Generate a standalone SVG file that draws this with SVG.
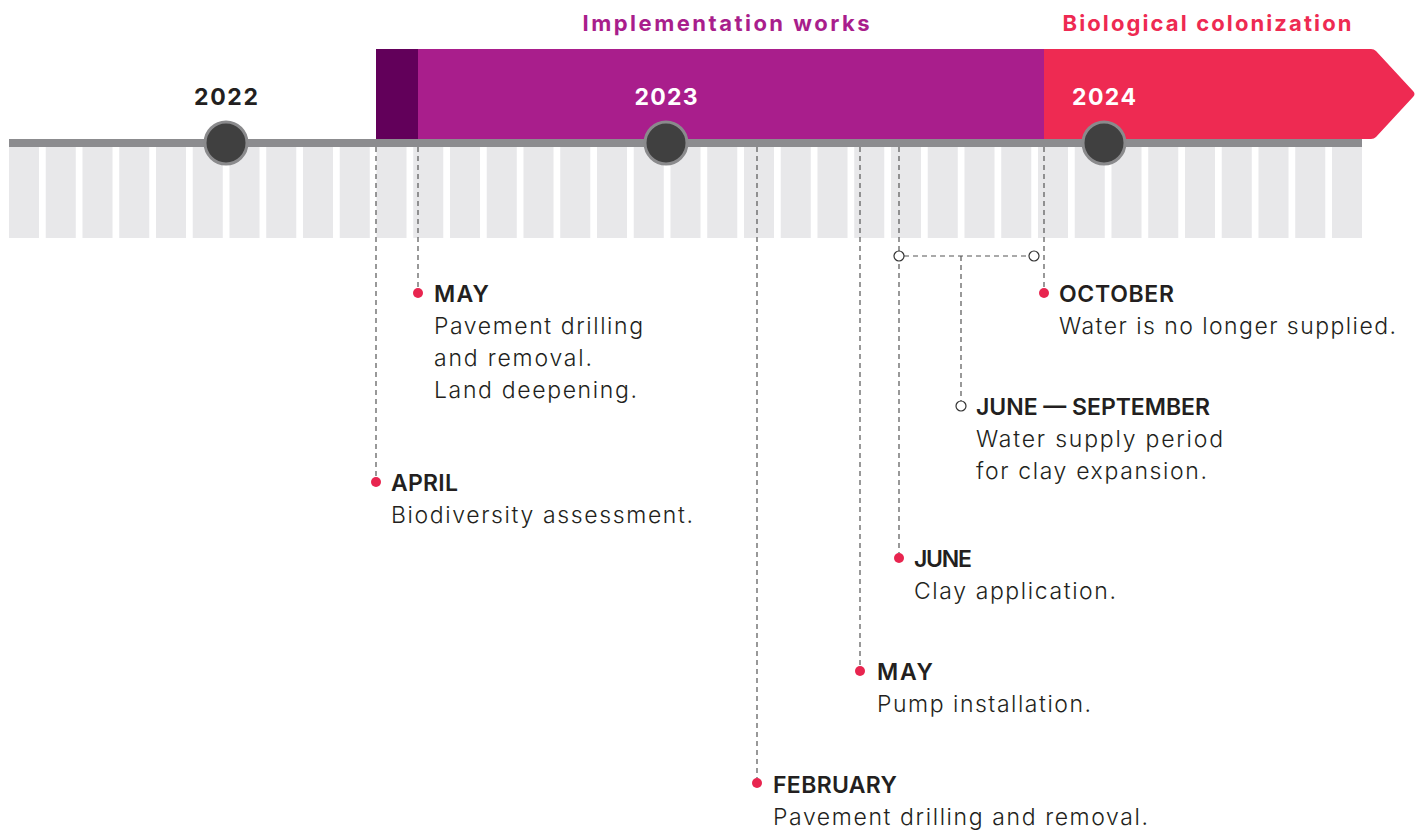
<svg xmlns="http://www.w3.org/2000/svg" width="1421" height="832" viewBox="0 0 1421 832">
<style>
.tick{fill:#e8e8ea}
.yr{font-family:Inter,"Liberation Sans",sans-serif;font-weight:700;font-size:23px;text-anchor:middle}
.ttl{font-family:Inter,"Liberation Sans",sans-serif;font-weight:700;font-size:22px;text-anchor:middle}
.hd{font-family:Inter,"Liberation Sans",sans-serif;font-weight:600;font-size:23px;fill:#231f20}
.bd{font-family:Inter,"Liberation Sans",sans-serif;font-weight:300;font-size:23px;fill:#231f20}
.dash{stroke:#555;stroke-width:1.2;stroke-dasharray:5 4;fill:none}
.dot{fill:#e8254f}
.ring{fill:#fff;stroke:#333;stroke-width:1.2}
.yc{fill:#404040;stroke:#8a8a8c;stroke-width:3}
</style>
<rect width="1421" height="832" fill="#fff"/>
<g id="phases">
<rect x="376" y="49" width="42" height="90" fill="#62005a"/>
<rect x="418" y="49" width="626" height="90" fill="#a91e8c"/>
<path d="M1044,49 H1371 Q1374,49 1376,51 L1413,91 Q1416,94 1413,97 L1376,137 Q1374,139 1371,139 H1044 Z" fill="#ee2a52"/>
<text class="ttl" x="726" y="31" fill="#a91e8c" textLength="287" lengthAdjust="spacing">Implementation works</text>
<text class="ttl" x="1207" y="31" fill="#ee2a52" textLength="289" lengthAdjust="spacing">Biological colonization</text>
</g>
<g id="ticks">
<rect class="tick" x="9" y="147" width="30" height="91"/>
<rect class="tick" x="45.75" y="147" width="30" height="91"/>
<rect class="tick" x="82.5" y="147" width="30" height="91"/>
<rect class="tick" x="119.25" y="147" width="30" height="91"/>
<rect class="tick" x="156" y="147" width="30" height="91"/>
<rect class="tick" x="192.75" y="147" width="30" height="91"/>
<rect class="tick" x="229.5" y="147" width="30" height="91"/>
<rect class="tick" x="266.25" y="147" width="30" height="91"/>
<rect class="tick" x="303" y="147" width="30" height="91"/>
<rect class="tick" x="339.75" y="147" width="30" height="91"/>
<rect class="tick" x="376.5" y="147" width="30" height="91"/>
<rect class="tick" x="413.25" y="147" width="30" height="91"/>
<rect class="tick" x="450" y="147" width="30" height="91"/>
<rect class="tick" x="486.75" y="147" width="30" height="91"/>
<rect class="tick" x="523.5" y="147" width="30" height="91"/>
<rect class="tick" x="560.25" y="147" width="30" height="91"/>
<rect class="tick" x="597" y="147" width="30" height="91"/>
<rect class="tick" x="633.75" y="147" width="30" height="91"/>
<rect class="tick" x="670.5" y="147" width="30" height="91"/>
<rect class="tick" x="707.25" y="147" width="30" height="91"/>
<rect class="tick" x="744" y="147" width="30" height="91"/>
<rect class="tick" x="780.75" y="147" width="30" height="91"/>
<rect class="tick" x="817.5" y="147" width="30" height="91"/>
<rect class="tick" x="854.25" y="147" width="30" height="91"/>
<rect class="tick" x="891" y="147" width="30" height="91"/>
<rect class="tick" x="927.75" y="147" width="30" height="91"/>
<rect class="tick" x="964.5" y="147" width="30" height="91"/>
<rect class="tick" x="1001.25" y="147" width="30" height="91"/>
<rect class="tick" x="1038" y="147" width="30" height="91"/>
<rect class="tick" x="1074.75" y="147" width="30" height="91"/>
<rect class="tick" x="1111.5" y="147" width="30" height="91"/>
<rect class="tick" x="1148.25" y="147" width="30" height="91"/>
<rect class="tick" x="1185" y="147" width="30" height="91"/>
<rect class="tick" x="1221.75" y="147" width="30" height="91"/>
<rect class="tick" x="1258.5" y="147" width="30" height="91"/>
<rect class="tick" x="1295.25" y="147" width="30" height="91"/>
<rect class="tick" x="1332" y="147" width="30" height="91"/>
</g>
<rect id="axis" x="9" y="139" width="1353" height="8" fill="#8c8c8f"/>
<g id="connectors">
<path class="dash" d="M376,147 V477"/>
<path class="dash" d="M418,147 V288"/>
<path class="dash" d="M757,147 V778"/>
<path class="dash" d="M860,147 V666"/>
<path class="dash" d="M899,147 V553"/>
<path class="dash" d="M1044,147 V287"/>
<path class="dash" d="M904,256 H1029"/>
<path class="dash" d="M961,256 V401"/>
</g>
<g id="year-2022"><circle class="yc" cx="226" cy="143" r="21"/><text class="yr" x="226" y="105" fill="#231f20" textLength="64" lengthAdjust="spacing">2022</text></g>
<g id="year-2023"><circle class="yc" cx="666" cy="143" r="21"/><text class="yr" x="666" y="105" fill="#fff" textLength="63" lengthAdjust="spacing">2023</text></g>
<g id="year-2024"><circle class="yc" cx="1104" cy="143" r="21"/><text class="yr" x="1104" y="105" fill="#fff" textLength="64" lengthAdjust="spacing">2024</text></g>
<g id="ev-april-2022"><circle class="dot" cx="376" cy="482" r="5"/><text class="hd" x="391" y="491" textLength="67" lengthAdjust="spacing">APRIL</text><text class="bd" x="391" y="523" textLength="302" lengthAdjust="spacing">Biodiversity assessment.</text></g>
<g id="ev-may-2022"><circle class="dot" cx="418" cy="293" r="5"/><text class="hd" x="434" y="302" textLength="55" lengthAdjust="spacing">MAY</text><text class="bd" x="434" y="334" textLength="209" lengthAdjust="spacing">Pavement drilling</text><text class="bd" x="434" y="366" textLength="158" lengthAdjust="spacing">and removal.</text><text class="bd" x="434" y="398" textLength="203" lengthAdjust="spacing">Land deepening.</text></g>
<g id="ev-feb-2023"><circle class="dot" cx="757" cy="783" r="5"/><text class="hd" x="773" y="793" textLength="124" lengthAdjust="spacing">FEBRUARY</text><text class="bd" x="773" y="825" textLength="375" lengthAdjust="spacing">Pavement drilling and removal.</text></g>
<g id="ev-may-2023"><circle class="dot" cx="860" cy="671" r="5"/><text class="hd" x="877" y="680" textLength="56" lengthAdjust="spacing">MAY</text><text class="bd" x="877" y="712" textLength="214" lengthAdjust="spacing">Pump installation.</text></g>
<g id="ev-june-2023"><circle class="dot" cx="899" cy="558" r="5"/><text class="hd" x="914" y="567" textLength="58" lengthAdjust="spacing">JUNE</text><text class="bd" x="914" y="599" textLength="202" lengthAdjust="spacing">Clay application.</text></g>
<g id="ev-june-sept-2023"><circle class="ring" cx="899" cy="256" r="5"/><circle class="ring" cx="1034" cy="256" r="5"/><circle class="ring" cx="961" cy="406" r="5"/><text class="hd" x="976" y="415" textLength="234" lengthAdjust="spacing">JUNE — SEPTEMBER</text><text class="bd" x="976" y="447" textLength="247" lengthAdjust="spacing">Water supply period</text><text class="bd" x="976" y="479" textLength="231" lengthAdjust="spacing">for clay expansion.</text></g>
<g id="ev-oct-2023"><circle class="dot" cx="1044" cy="293" r="5"/><text class="hd" x="1059" y="302" textLength="115" lengthAdjust="spacing">OCTOBER</text><text class="bd" x="1059" y="334" textLength="337" lengthAdjust="spacing">Water is no longer supplied.</text></g>
</svg>
